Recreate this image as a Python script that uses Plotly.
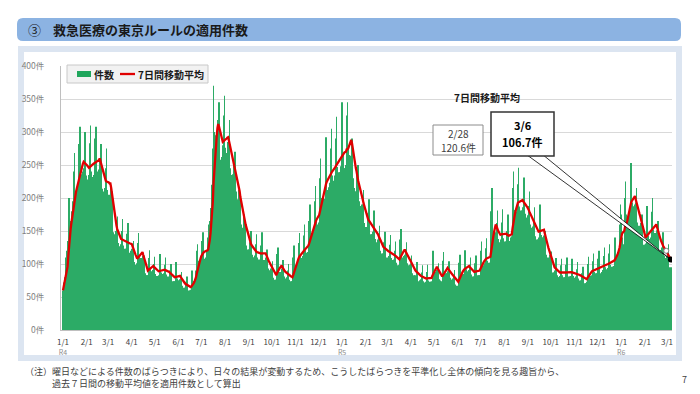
import pandas as pd
import plotly.graph_objects as go

# ---------------- data (daily Tokyo-rule application counts) ----------------
counts_2022 = [
    60, 72, 80, 95, 110, 120, 135,
    175, 200, 165, 165, 175, 180, 195,
    240, 268, 205, 200, 210, 215, 225,
    282, 308, 242, 230, 236, 240, 245,
    275, 300, 234, 222, 226, 228, 235,
    283, 310, 240, 228, 232, 235, 240,
    290, 308, 246, 235, 240, 243, 258,
    258, 282, 214, 205, 210, 212, 215,
    245, 275, 212, 200, 205, 202, 215,
    200, 210, 160, 148, 145, 140, 150,
    155, 172, 132, 124, 127, 126, 130,
    150, 168, 128, 121, 123, 123, 125,
    146, 162, 124, 117, 120, 118, 123,
    122, 135, 103, 97, 99, 99, 101,
    132, 147, 112, 106, 109, 108, 112,
    101, 113, 86, 81, 83, 83, 83,
    109, 121, 92, 87, 89, 90, 91,
    100, 111, 85, 80, 82, 82, 83,
    103, 115, 87, 83, 85, 85, 86,
    99, 110, 84, 79, 81, 81, 82,
    90, 100, 76, 72, 74, 74, 74,
    92, 103, 78, 74, 75, 75, 77,
    78, 88, 67, 63, 64, 64, 66,
    73, 81, 62, 58, 60, 60, 61,
    80, 90, 74, 72, 76, 78, 90,
    120, 130, 105, 100, 105, 110, 114,
    135, 148, 112, 106, 108, 110, 121,
    140, 160, 150, 165, 185, 205, 220,
    275, 370, 300, 295, 290, 300, 312,
    318, 345, 270, 258, 262, 262, 280,
    325, 355, 276, 265, 268, 270, 285,
    290, 318, 245, 232, 235, 236, 250,
    255, 270, 210, 200, 198, 195, 212,
    190, 205, 160, 150, 155, 155, 175,
    155, 165, 128, 120, 122, 122, 133,
    135, 150, 114, 108, 110, 110, 113,
    130, 145, 110, 104, 107, 107, 109,
    128, 148, 111, 103, 106, 106, 110,
    110, 122, 93, 88, 90, 90, 93,
    93, 104, 79, 75, 76, 76, 78,
    115, 125, 95, 85, 88, 85, 93,
    95, 106, 81, 77, 78, 78, 80,
    90, 100, 76, 72, 74, 74, 74,
    110, 128, 100, 96, 98, 100, 103,
    132, 147, 112, 106, 109, 108, 112,
    143, 160, 121, 115, 117, 118, 122,
    165, 190, 148, 140, 145, 148, 149,
    195, 218, 165, 157, 160, 160, 163,
    230, 260, 200, 195, 200, 200, 199,
    263, 292, 223, 212, 216, 216, 223,
    275, 305, 234, 222, 226, 226, 234,
    290, 323, 247, 234, 239, 239, 248,
    300,
]

counts_2023 = [
    345, 265, 240, 245, 245, 250,
    325, 345, 275, 260, 265, 264, 282,
    290, 280, 230, 215, 210, 210, 245,
    225, 250, 195, 185, 188, 188, 190,
    190, 212, 162, 153, 156, 156, 161,
    177, 198, 150, 142, 145, 145, 149,
    162, 181, 138, 131, 133, 133, 137,
    141, 158, 120, 113, 116, 116, 118,
    133, 149, 113, 107, 110, 109, 112,
    129, 144, 109, 104, 106, 106, 107,
    120, 134, 102, 96, 98, 98, 101,
    137, 153, 116, 110, 112, 112, 114,
    119, 133, 101, 95, 98, 97, 99,
    101, 113, 86, 81, 83, 83, 83,
    92, 103, 78, 74, 75, 75, 77,
    87, 98, 74, 70, 72, 72, 73,
    88, 99, 75, 71, 73, 73, 74,
    108, 120, 91, 86, 88, 88, 91,
    91, 101, 77, 73, 75, 74, 76,
    105, 118, 89, 85, 86, 86, 89,
    93, 104, 79, 75, 76, 76, 78,
    82, 91, 69, 66, 67, 67, 69,
    102, 114, 86, 82, 84, 84, 85,
    109, 121, 92, 87, 89, 90, 91,
    99, 110, 84, 79, 81, 81, 82,
    101, 113, 86, 81, 83, 83, 83,
    120, 134, 102, 96, 98, 98, 101,
    124, 139, 105, 100, 102, 102, 105,
    180, 215, 152, 146, 147, 148, 132,
    162, 181, 138, 131, 133, 133, 137,
    163, 183, 139, 131, 134, 134, 138,
    150, 175, 138, 135, 140, 135, 142,
    215, 240, 182, 173, 177, 177, 180,
    221, 246, 187, 177, 181, 181, 186,
    207, 231, 176, 167, 170, 170, 174,
    188, 210, 160, 151, 155, 155, 157,
    167, 186, 142, 134, 137, 137, 140,
    170, 190, 144, 137, 140, 140, 143,
    134, 150, 114, 108, 110, 110, 114,
    106, 119, 90, 86, 87, 87, 90,
    97, 109, 83, 78, 80, 80, 82,
    98, 108, 83, 78, 80, 80, 82,
    99, 110, 84, 79, 81, 81, 82,
    96, 108, 82, 77, 79, 79, 81,
    92, 103, 78, 74, 75, 75, 77,
    86, 96, 73, 69, 71, 71, 73,
    100, 111, 85, 80, 82, 82, 83,
    104, 116, 88, 84, 86, 86, 87,
    108, 120, 91, 86, 88, 88, 91,
    112, 125, 95, 90, 92, 92, 94,
    116, 130, 99, 94, 96, 96, 97,
    125, 140, 112, 110, 115, 118, 120,
    160, 190,
]

counts_2024 = [
    175, 140, 130, 125, 130,
    200, 225, 175, 170, 172, 172, 181,
    228, 253, 193, 183, 187, 187, 190,
    193, 215, 163, 155, 158, 158, 162,
    157, 175, 133, 126, 129, 129, 131,
    168, 188, 143, 135, 138, 138, 140,
    179, 200, 152, 144, 147, 147, 151,
    148, 165, 125, 119, 121, 121, 125,
    132, 148, 112, 106, 109, 108, 111,
    118, 130, 95, 90, 95,
]

start_date = "2022-01-01"
month_ticks = pd.date_range("2022-01-01", "2024-03-01", freq="MS")
era_labels = {2022: "R4", 2023: "R5", 2024: "R6"}
y_ticks = [0, 50, 100, 150, 200, 250, 300, 350, 400]
label_prev = ("2/28", "120.6件")
label_last = ("3/6", "106.7件")
series_names = ("件数", "7日間移動平均")

# ---------------- derived ----------------
counts = counts_2022 + counts_2023 + counts_2024
dates = pd.date_range(start_date, periods=len(counts), freq="D")
ma7 = pd.Series(counts).rolling(7, min_periods=1).mean()

ticktext = []
for d in month_ticks:
    if d.month == 1:
        ticktext.append(f"1/1<br><span style='font-size:7px;color:#8c8c8c'>{era_labels[d.year]}</span>")
    else:
        ticktext.append(f"{d.month}/1")

FONT = "Noto Sans CJK JP"
W, H = 700, 394
L, R, T, B = 61, 28, 66, 64
PW, PH = W - L - R, H - T - B
GREEN = "#2cab66"
RED = "#e00000"


def px(x):
    return (x - L) / PW


def py(y):
    return (H - B - y) / PH


def rrect(x0, y0, x1, y1, r):
    a, b, c, d = px(x0), px(x1), py(y0), py(y1)
    rx, ry = r / PW, r / PH
    return (f"M {a+rx},{c} L {b-rx},{c} Q {b},{c} {b},{c-ry} L {b},{d+ry} "
            f"Q {b},{d} {b-rx},{d} L {a+rx},{d} Q {a},{d} {a},{d+ry} "
            f"L {a},{c-ry} Q {a},{c} {a+rx},{c} Z")


fig = go.Figure()

fig.add_trace(go.Bar(
    x=dates, y=counts, name=series_names[0], showlegend=False,
    marker=dict(color=GREEN, line=dict(width=0)),
    width=0.6 * 86400000,
))
fig.add_trace(go.Scatter(
    x=dates, y=ma7, mode="lines", name=series_names[1], showlegend=False,
    line=dict(color=RED, width=2.3),
))
fig.add_trace(go.Scatter(
    x=[dates[-7]], y=[ma7.iloc[-7]], mode="markers", showlegend=False,
    marker=dict(color="white", size=5, line=dict(color="#808080", width=1)),
))
fig.add_trace(go.Scatter(
    x=[dates[-1]], y=[ma7.iloc[-1]], mode="markers", showlegend=False,
    marker=dict(color="black", size=6),
))

shapes = [
    dict(type="rect", xref="paper", yref="paper", x0=px(18), x1=px(682), y0=py(46), y1=py(361),
         fillcolor="#dce5f1", line=dict(width=0), layer="below"),
    dict(type="rect", xref="paper", yref="paper", x0=px(24), x1=px(676), y0=py(52), y1=py(355),
         fillcolor="white", line=dict(width=0), layer="below"),
    dict(type="path", xref="paper", yref="paper", path=rrect(17, 18, 681, 41, 6),
         fillcolor="#8cb3e2", line=dict(width=0), layer="below"),
    # legend box and swatches
    dict(type="rect", xref="paper", yref="paper", x0=px(67), x1=px(208), y0=py(65), y1=py(83),
         fillcolor="#f2f2f2", line=dict(color="#c8c8c8", width=1), layer="above"),
    dict(type="rect", xref="paper", yref="paper", x0=px(77), x1=px(91), y0=py(71), y1=py(77),
         fillcolor="#1fa65c", line=dict(width=0), layer="above"),
    dict(type="line", xref="paper", yref="paper", x0=px(120), x1=px(135), y0=py(74), y1=py(74),
         line=dict(color=RED, width=2.3), layer="above"),
    # boxes of the two value labels
    dict(type="rect", xref="paper", yref="paper", x0=px(433), x1=px(483), y0=py(125), y1=py(155),
         fillcolor="white", line=dict(color="#8c8c8c", width=1), layer="above"),
    # callout wedge pointing to the last value
    dict(type="path", xref="x", yref="y", xsizemode="pixel", ysizemode="pixel",
         xanchor=dates[-1], yanchor=float(ma7.iloc[-1]),
         path="M -143,104 L -127,104 L 0,0 Z",
         fillcolor="white", line=dict(color="#000000", width=0.8), layer="above"),
    dict(type="rect", xref="paper", yref="paper", x0=px(491), x1=px(554), y0=py(112), y1=py(156),
         fillcolor="white", line=dict(color="#333333", width=1.5), layer="above"),
]

annotations = [
    dict(text="③", x=px(26), y=py(30), xref="paper", yref="paper", xanchor="left", yanchor="middle",
         showarrow=False, font=dict(family=FONT, size=13, color="#1a1a1a")),
    dict(text="<b>救急医療の東京ルールの適用件数</b>", x=px(51), y=py(30), xref="paper", yref="paper",
         xanchor="left", yanchor="middle", showarrow=False,
         font=dict(family=FONT, size=13, color="#1a1a1a")),
    dict(text=f"<b>{series_names[0]}</b>", x=px(92), y=py(74), xref="paper", yref="paper",
         xanchor="left", yanchor="middle", showarrow=False,
         font=dict(family=FONT, size=10, color="#1a1a1a")),
    dict(text=f"<b>{series_names[1]}</b>", x=px(136), y=py(74), xref="paper", yref="paper",
         xanchor="left", yanchor="middle", showarrow=False,
         font=dict(family=FONT, size=10, color="#1a1a1a")),
    dict(text="<b>7日間移動平均</b>", x=px(487), y=py(97), xref="paper", yref="paper",
         xanchor="center", yanchor="middle", showarrow=False,
         font=dict(family=FONT, size=10, color="#1a1a1a")),
    dict(text=label_prev[0], x=px(458), y=py(133), xref="paper", yref="paper",
         xanchor="center", yanchor="middle", showarrow=False,
         font=dict(family=FONT, size=10, color="#404040")),
    dict(text=label_prev[1], x=px(458), y=py(147), xref="paper", yref="paper",
         xanchor="center", yanchor="middle", showarrow=False,
         font=dict(family=FONT, size=10, color="#404040")),
    dict(text=f"<b>{label_last[0]}</b>", x=px(522.5), y=py(125), xref="paper", yref="paper",
         xanchor="center", yanchor="middle", showarrow=False,
         font=dict(family=FONT, size=11, color="#000000")),
    dict(text=f"<b>{label_last[1]}</b>", x=px(522.5), y=py(142), xref="paper", yref="paper",
         xanchor="center", yanchor="middle", showarrow=False,
         font=dict(family=FONT, size=11, color="#000000")),
    dict(text="（注）", x=px(23), y=py(371), xref="paper", yref="paper", xanchor="left", yanchor="middle",
         showarrow=False, font=dict(family=FONT, size=9, color="#404040")),
    dict(text="曜日などによる件数のばらつきにより、日々の結果が変動するため、こうしたばらつきを平準化し全体の傾向を見る趣旨から、",
         x=px(50), y=py(371), xref="paper", yref="paper", xanchor="left", yanchor="middle",
         showarrow=False, font=dict(family=FONT, size=9, color="#404040")),
    dict(text="過去７日間の移動平均値を適用件数として算出",
         x=px(50), y=py(383), xref="paper", yref="paper", xanchor="left", yanchor="middle",
         showarrow=False, font=dict(family=FONT, size=9, color="#404040")),
    dict(text="7", x=px(684), y=py(379), xref="paper", yref="paper", xanchor="center", yanchor="middle",
         showarrow=False, font=dict(family=FONT, size=9, color="#404040")),
]

fig.update_layout(
    width=W, height=H,
    margin=dict(l=L, r=R, t=T, b=B, pad=0),
    paper_bgcolor="white", plot_bgcolor="rgba(0,0,0,0)",
    showlegend=False,
    shapes=shapes,
    annotations=annotations,
    font=dict(family=FONT),
)

fig.update_xaxes(
    type="date",
    range=[dates[0] - pd.Timedelta(hours=62), dates[-1] + pd.Timedelta(hours=36)],
    tickvals=month_ticks, ticktext=ticktext,
    tickfont=dict(family=FONT, size=8, color="#404040"),
    showgrid=False, showline=True, linecolor="#bfbfbf", linewidth=1,
    ticks="", ticklabelstandoff=4,
)
fig.update_yaxes(
    range=[0, 400], tickvals=y_ticks, ticktext=[f"{v}件" for v in y_ticks],
    tickfont=dict(family=FONT, size=8.5, color="#808080"),
    showgrid=True, gridcolor="#d9d9d9", gridwidth=1,
    showline=True, linecolor="#bfbfbf", linewidth=1,
    zeroline=False, ticks="", ticklabelstandoff=14,
)

fig.write_html(
    "out.html",
    config={"displayModeBar": False},
    post_script="document.body.style.margin='0px';document.body.style.overflow='hidden';",
)
